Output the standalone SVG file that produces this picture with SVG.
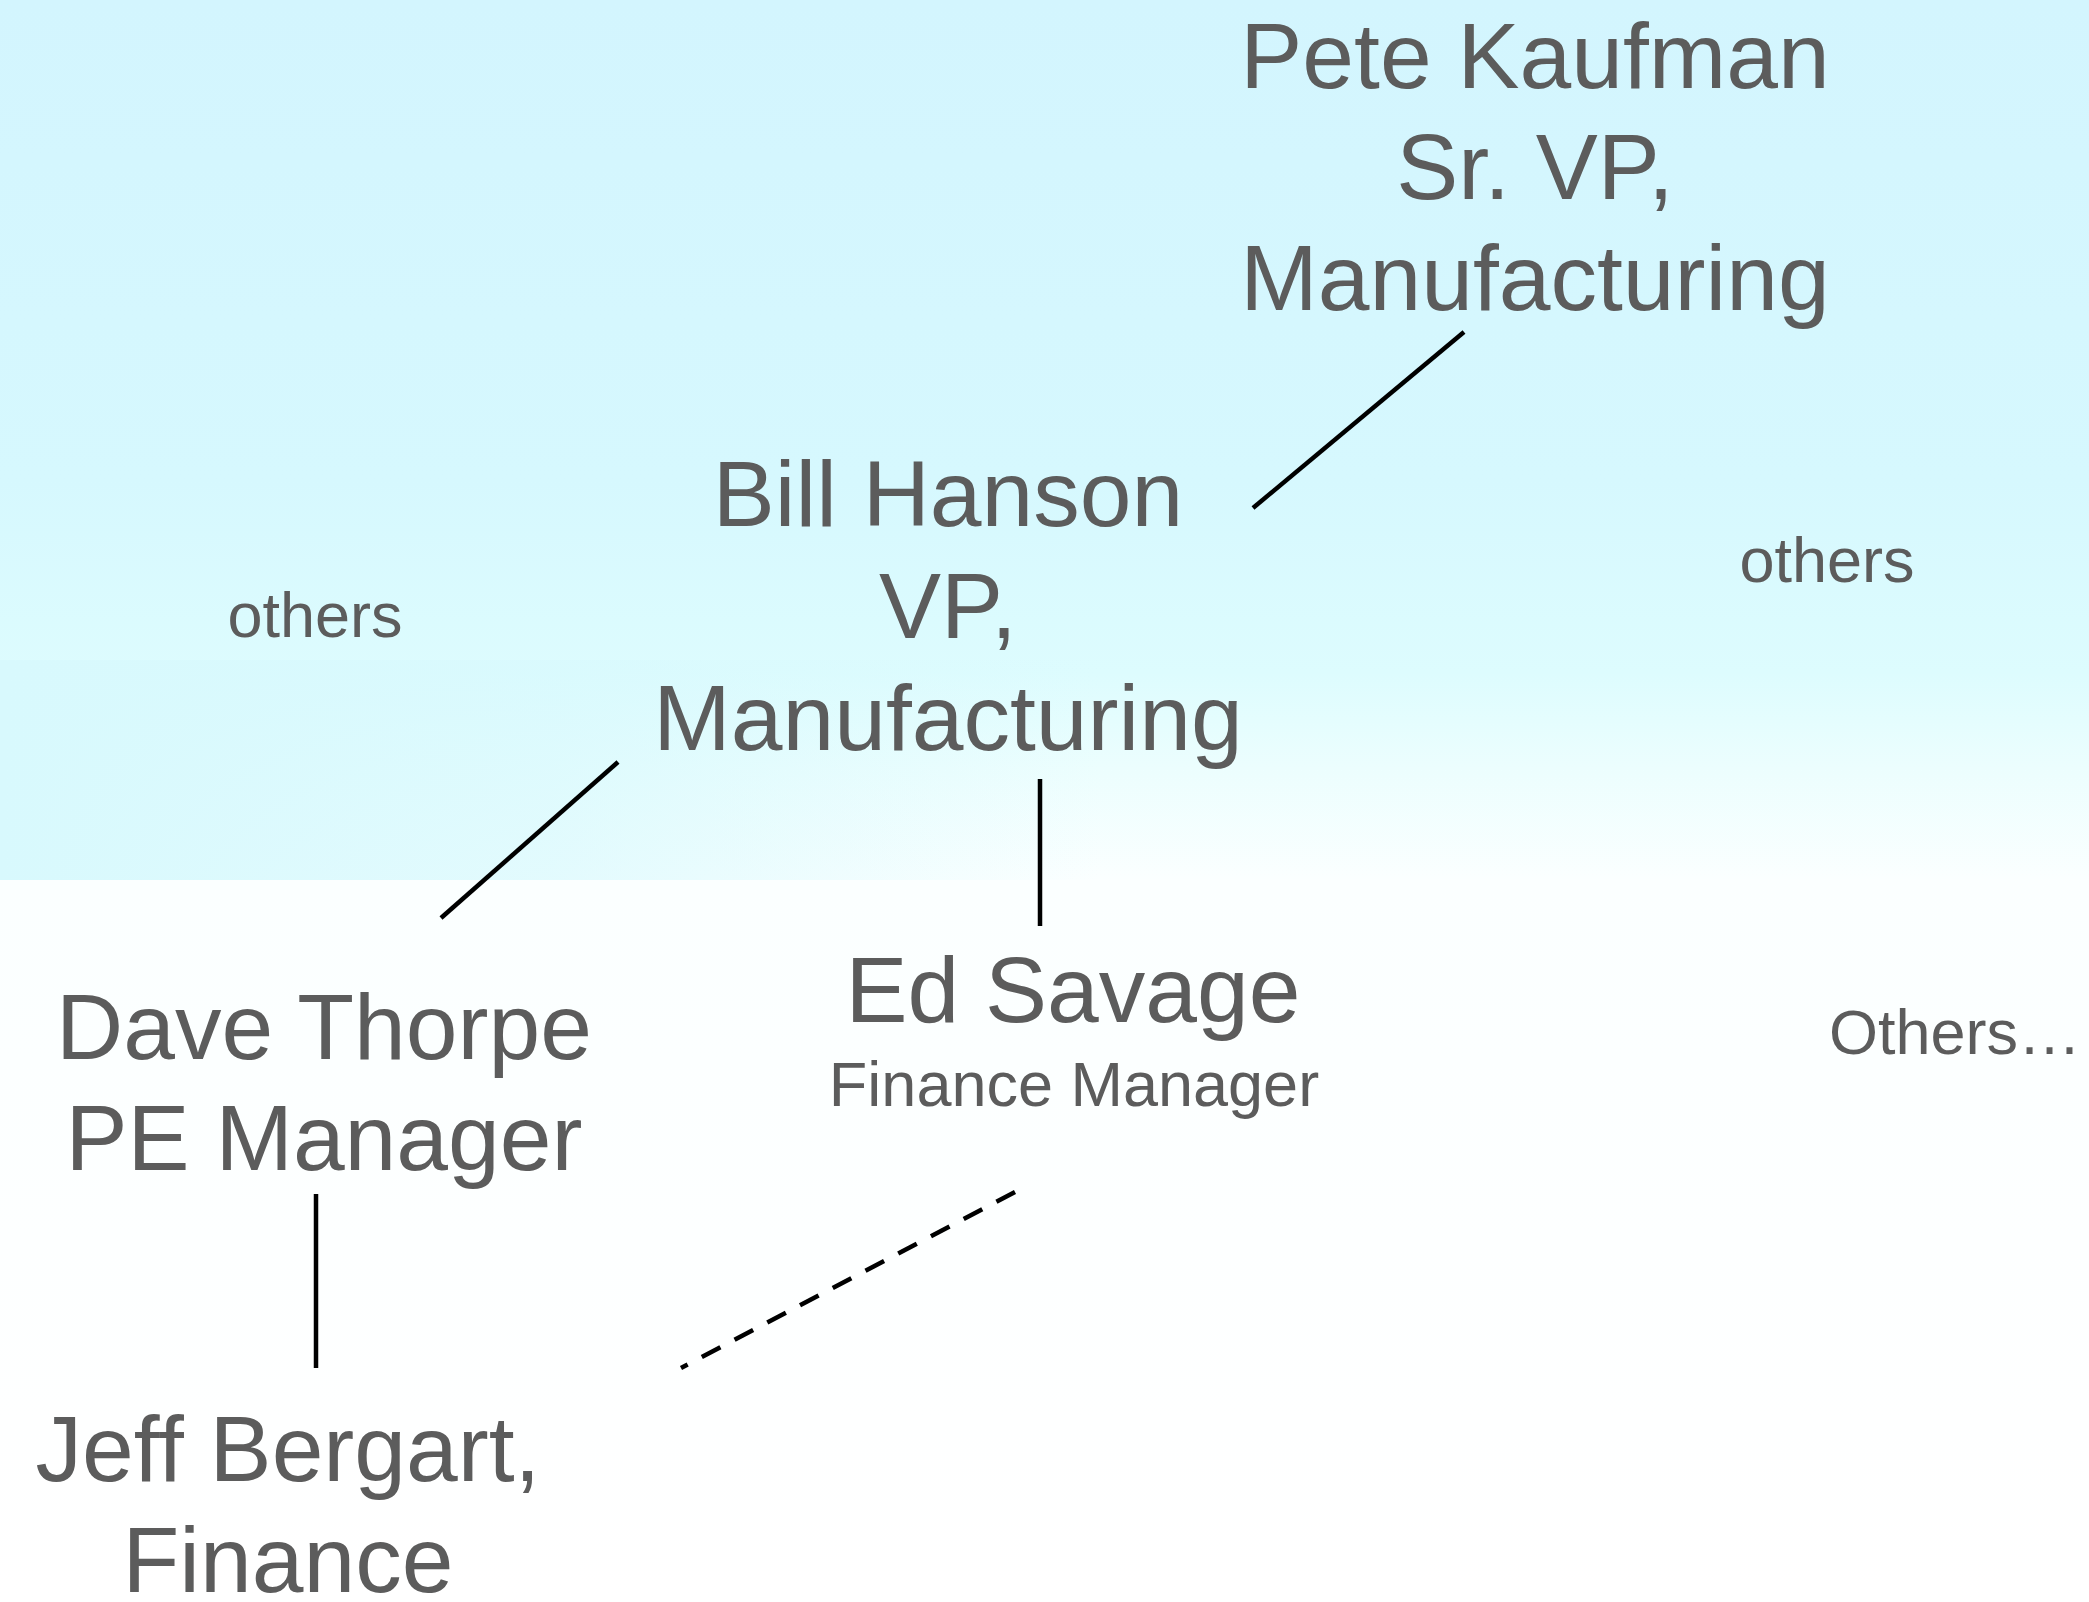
<svg xmlns="http://www.w3.org/2000/svg" width="2089" height="1602" viewBox="0 0 2089 1602">
  <defs>
    <linearGradient id="bg" x1="0" y1="0" x2="0" y2="1602" gradientUnits="userSpaceOnUse">
      <stop offset="0" stop-color="#d3f5fe"/>
      <stop offset="0.3" stop-color="#d6f8fe"/>
      <stop offset="0.42" stop-color="#ddfcfe"/>
      <stop offset="0.48" stop-color="#ecfefe"/>
      <stop offset="0.55" stop-color="#fbffff"/>
      <stop offset="1" stop-color="#ffffff"/>
    </linearGradient>
    <linearGradient id="leftband" x1="0" y1="0" x2="1100" y2="0" gradientUnits="userSpaceOnUse">
      <stop offset="0" stop-color="#d8f9fd" stop-opacity="1"/>
      <stop offset="0.5" stop-color="#d8f9fd" stop-opacity="0.7"/>
      <stop offset="1" stop-color="#d8f9fd" stop-opacity="0"/>
    </linearGradient>
  </defs>
  <style>
    .big { font-family: "Liberation Sans", Arial, sans-serif; font-size: 93px; fill: #5c5c5c; text-anchor: middle; }
    .small { font-family: "Liberation Sans", Arial, sans-serif; font-size: 63px; fill: #5c5c5c; text-anchor: middle; }
    .conn { stroke: #000; stroke-width: 4.5; fill: none; }
    .dash { stroke-dasharray: 21 16; }
  </style>
  <rect x="0" y="0" width="2089" height="1602" fill="url(#bg)"/>
  <rect x="0" y="660" width="1100" height="220" fill="url(#leftband)"/>

  <g id="connectors">
    <line class="conn" x1="1464" y1="332" x2="1253" y2="508"/>
    <line class="conn" x1="618" y1="762" x2="441" y2="918"/>
    <line class="conn" x1="1040" y1="779" x2="1040" y2="926"/>
    <line class="conn" x1="316" y1="1194" x2="316" y2="1368"/>
    <line class="conn dash" x1="1015" y1="1192" x2="681" y2="1368"/>
  </g>

  <g id="pete">
    <text class="big" x="1535" y="88">Pete Kaufman</text>
    <text class="big" x="1535" y="199">Sr. VP,</text>
    <text class="big" x="1535" y="310">Manufacturing</text>
  </g>
  <g id="bill">
    <text class="big" x="948" y="526">Bill Hanson</text>
    <text class="big" x="948" y="638">VP,</text>
    <text class="big" x="948" y="750">Manufacturing</text>
  </g>
  <g id="others-left">
    <text class="small" x="315" y="637">others</text>
  </g>
  <g id="others-right">
    <text class="small" x="1827" y="582">others</text>
  </g>
  <g id="dave">
    <text class="big" x="324" y="1059">Dave Thorpe</text>
    <text class="big" x="324" y="1170">PE Manager</text>
  </g>
  <g id="ed">
    <text class="big" x="1073" y="1022">Ed Savage</text>
    <text class="small" x="1074" y="1106">Finance Manager</text>
  </g>
  <g id="others-far">
    <text class="small" x="1829" y="1054" style="text-anchor:start">Others…</text>
  </g>
  <g id="jeff">
    <text class="big" x="288" y="1481">Jeff Bergart,</text>
    <text class="big" x="288" y="1592">Finance</text>
  </g>
</svg>
